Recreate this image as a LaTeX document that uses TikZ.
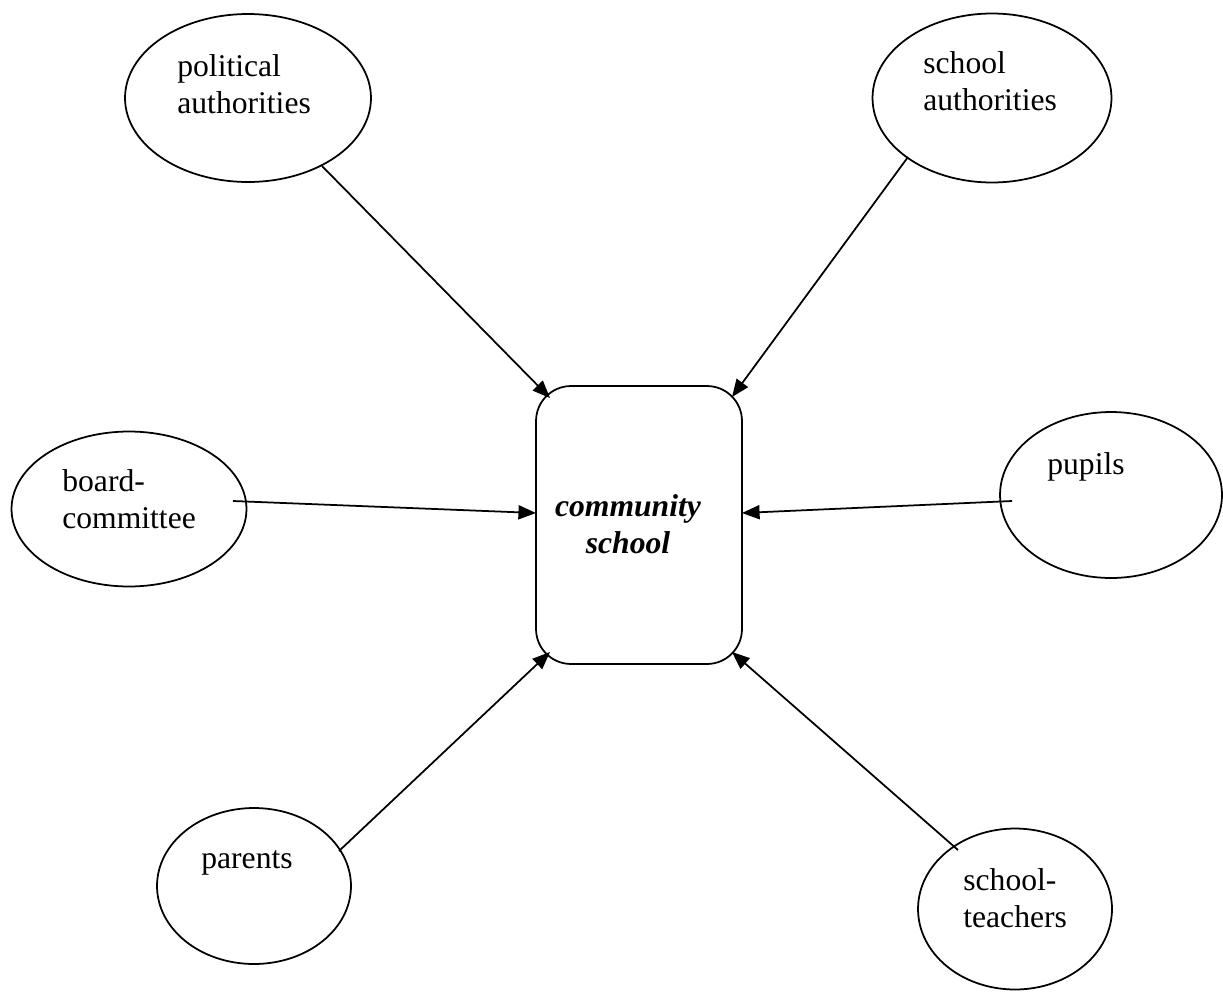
\documentclass[tikz,border=0pt]{standalone}
\usepackage{fontspec}
\setmainfont{Liberation Serif}
\usetikzlibrary{arrows.meta,shapes.geometric}

\begin{document}
\begin{tikzpicture}[x=0.02cm,y=-0.02cm,>={Triangle[length=10pt,width=8pt]},
  ell/.style={draw,ellipse,line width=1pt,inner sep=0pt,outer sep=0pt},
  lbl/.style={anchor=base west,inner sep=0pt,align=left,font=\fontsize{18}{21}\selectfont},
  link/.style={->,line width=1pt}]
\useasboundingbox (0,0) rectangle (1223,994);
\node[ell,minimum width=4.92cm,minimum height=3.36cm] (pol) at (248,98) {};
\node[ell,minimum width=4.78cm,minimum height=3.38cm] (sch) at (992,98) {};
\node[ell,minimum width=4.70cm,minimum height=3.10cm] (brd) at (129,509) {};
\node[ell,minimum width=4.44cm,minimum height=3.32cm] (pup) at (1111,495) {};
\node[ell,minimum width=3.88cm,minimum height=3.12cm] (par) at (254,886) {};
\node[ell,minimum width=3.88cm,minimum height=3.22cm] (tch) at (1015,909) {};
\node[draw,line width=1pt,rounded corners=0.7cm,minimum width=4.12cm,minimum height=5.56cm,inner sep=0pt] (cs) at (639,525) {};
\node[lbl] (pol-t) at (177,113) {political\\authorities};
\node[lbl] (sch-t) at (923,110) {school\\authorities};
\node[lbl] (brd-t) at (62,528) {board-\\committee};
\node[lbl] (pup-t) at (1047,474) {pupils};
\node[lbl] (par-t) at (201,868) {parents};
\node[lbl] (tch-t) at (963,927) {school-\\teachers};
\node[lbl,anchor=base,align=center,font=\fontsize{18}{20.5}\selectfont\bfseries\itshape] (cs-t) at (628,553) {community\\school};
\draw[link] ([shift={(74,68)}]pol.center) -- ([shift={(-89,-127)}]cs.center);
\draw[link] ([shift={(-84,59)}]sch.center) -- ([shift={(93,-128)}]cs.center);
\draw[link] ([shift={(104,-8)}]brd.center) -- ([shift={(-103,-12)}]cs.center);
\draw[link] ([shift={(-99,6)}]pup.center) -- ([shift={(103,-12)}]cs.center);
\draw[link] ([shift={(85,-35)}]par.center) -- ([shift={(-89,127)}]cs.center);
\draw[link] ([shift={(-57,-59)}]tch.center) -- ([shift={(93,127)}]cs.center);
\end{tikzpicture}
\end{document}
